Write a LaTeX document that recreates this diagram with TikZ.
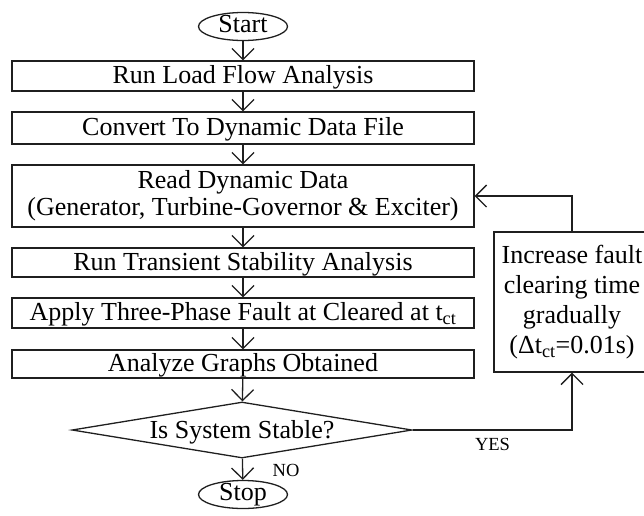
\documentclass[tikz,border=0pt]{standalone}
\usepackage{fontspec}
\setmainfont{Liberation Serif}
\usetikzlibrary{shapes.geometric,arrows.meta}
\begin{document}
\begin{tikzpicture}[x=1pt,y=-1pt,
  linecol/.style={draw=black!88, line width=1.3pt},
  procbox/.style={linecol, rectangle, inner sep=0pt, minimum width=462pt,
    align=center, font=\fontsize{26}{27}\selectfont},
  onerow/.style={text height=19.5pt, text depth=4.5pt},
  term/.style={linecol, ellipse, inner sep=0pt, minimum width=89pt,
    minimum height=28pt, text height=15pt, text depth=3.5pt,
    font=\fontsize{26}{27}\selectfont},
  decision/.style={linecol, diamond, inner sep=0pt, minimum width=340pt,
    minimum height=56pt, shape aspect=6, text height=18pt, text depth=2pt,
    font=\fontsize{26}{27}\selectfont},
  flow/.style={linecol, -{Straight Barb[length=11pt,width=22pt,line width=1.3pt]}},
  tag/.style={inner sep=0pt, font=\fontsize{18.5}{19}\selectfont}]
\useasboundingbox (0,0) rectangle (644,515);

% main column
\node[term] (start) at (243,26.5) {Start};
\node[procbox, onerow, minimum height=30pt] (loadflow) at (243,76) {Run Load Flow Analysis};
\node[procbox, onerow, minimum height=32pt] (convert) at (243,128) {Convert To Dynamic Data File};
\node[procbox, minimum height=62pt] (read) at (243,196)
  {Read Dynamic Data\\(Generator, Turbine-Governor \& Exciter)};
\node[procbox, onerow, minimum height=29pt] (transient) at (243,262.5) {Run Transient Stability Analysis};
\node[procbox, onerow, minimum height=30pt] (fault) at (243,313)
  {Apply Three-Phase Fault at Cleared at t\textsubscript{ct}};
\node[procbox, onerow, minimum height=28pt] (graphs) at (243,364) {Analyze Graphs Obtained};
\node[decision] (stable) at (242,430) {Is System Stable?};
\node[term] (stop) at (243,494.5) {Stop};

% feedback box
\node[linecol, rectangle, inner sep=0pt, minimum width=156pt, minimum height=140pt,
  align=center, font=\fontsize{26}{30}\selectfont] (increase) at (572,302)
  {Increase fault\\clearing time\\gradually\\(Δt\textsubscript{ct}=0.01s)};

% connectors
\draw[flow] (start) -- (loadflow);
\draw[flow] (loadflow) -- (convert);
\draw[flow] (convert) -- (read);
\draw[flow] (read) -- (transient);
\draw[flow] (transient) -- (fault);
\draw[flow] (fault) -- (graphs);
\draw[flow] (graphs) -- (stable);
\draw[flow] (stable) -- (stop);
\draw[flow] (stable.east) -| (increase.south);
\draw[flow] (increase.north) |- (read.east);

% branch labels
\node[tag] (no) at (286,470) {NO};
\node[tag] (yes) at (492.5,444) {YES};
\end{tikzpicture}
\end{document}
